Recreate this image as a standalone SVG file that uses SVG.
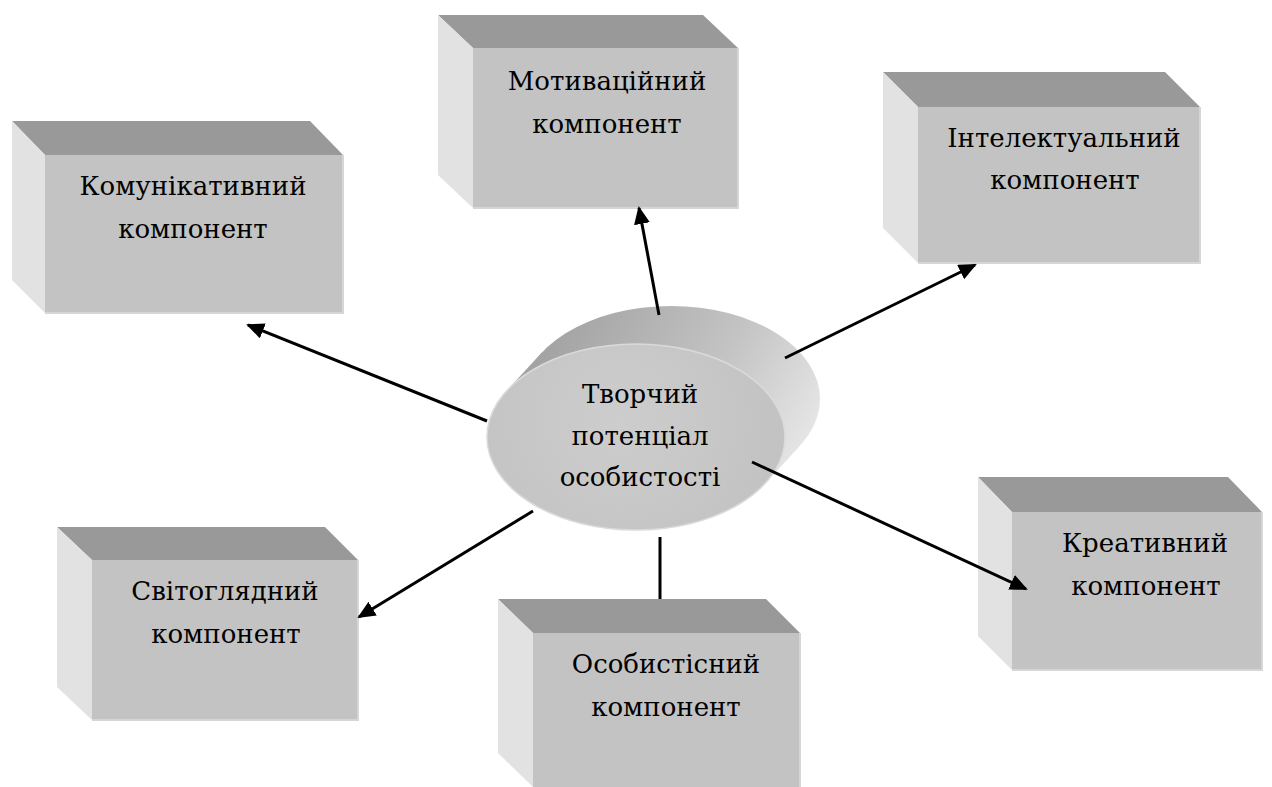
<svg xmlns="http://www.w3.org/2000/svg" width="1272" height="787" viewBox="0 0 1272 787">
<style>
.top{fill:#999999}
.side{fill:#e2e2e2}
.front{fill:#c3c3c3}
.edge{stroke:#d6d6d6;stroke-width:2;fill:none}
text{fill:#000;text-anchor:middle;font-family:'DejaVu Serif',serif;font-size:26px}
.conn{stroke:#000;stroke-width:3;fill:none}
</style>
<defs>
<marker id="arr" markerUnits="userSpaceOnUse" markerWidth="22" markerHeight="18" refX="16" refY="8" orient="auto">
<path d="M0,0 L18,8 L0,16 z" fill="#000"/>
</marker>
<linearGradient id="cylSide" gradientUnits="userSpaceOnUse" x1="560" y1="320" x2="815" y2="470">
<stop offset="0" stop-color="#a3a3a3"/>
<stop offset="0.55" stop-color="#c4c4c4"/>
<stop offset="1" stop-color="#ececec"/>
</linearGradient>
<radialGradient id="cylTop" gradientUnits="userSpaceOnUse" cx="620" cy="420" r="170">
<stop offset="0" stop-color="#cdcdcd"/>
<stop offset="1" stop-color="#c2c2c2"/>
</radialGradient>
</defs>

<g id="node-komunikatyvnyi">
<polygon class="top" points="12,121 310,121 343,155 45,155"/>
<polygon class="side" points="12,121 45,155 45,313 12,280"/>
<rect class="front" x="45" y="155" width="298" height="158"/>
<polyline class="edge" points="343,155 343,313 45,313"/>
<text x="193" y="195">Комунікативний</text>
<text x="193" y="238">компонент</text>
</g>

<g id="node-motyvatsiinyi">
<polygon class="top" points="438,15 703,15 738,48 473,48"/>
<polygon class="side" points="438,15 473,48 473,208 438,175"/>
<rect class="front" x="473" y="48" width="265" height="160"/>
<polyline class="edge" points="738,48 738,208 473,208"/>
<text x="607" y="90">Мотиваційний</text>
<text x="607" y="133">компонент</text>
</g>

<g id="node-intelektualnyi">
<polygon class="top" points="883,72 1165,72 1200,107 918,107"/>
<polygon class="side" points="883,72 918,107 918,263 883,228"/>
<rect class="front" x="918" y="107" width="282" height="156"/>
<polyline class="edge" points="1200,107 1200,263 918,263"/>
<text x="1064" y="147">Інтелектуальний</text>
<text x="1065" y="189">компонент</text>
</g>

<g id="node-kreatyvnyi">
<polygon class="top" points="978,477 1228,477 1262,512 1012,512"/>
<polygon class="side" points="978,477 1012,512 1012,670 978,636"/>
<rect class="front" x="1012" y="512" width="250" height="158"/>
<polyline class="edge" points="1262,512 1262,670 1012,670"/>
<text x="1145" y="552">Креативний</text>
<text x="1146" y="595">компонент</text>
</g>

<g id="node-osobystisnyi">
<polygon class="top" points="498,599 766,599 800,633 533,633"/>
<polygon class="side" points="498,599 533,633 533,787 498,753"/>
<rect class="front" x="533" y="633" width="267" height="154"/>
<line class="edge" x1="800" y1="633" x2="800" y2="787"/>
<text x="666" y="673">Особистісний</text>
<text x="666" y="716">компонент</text>
</g>

<g id="node-svitohliadnyi">
<polygon class="top" points="57,527 325,527 358,560 92,560"/>
<polygon class="side" points="57,527 92,560 92,720 57,687"/>
<rect class="front" x="92" y="560" width="266" height="160"/>
<polyline class="edge" points="358,560 358,720 92,720"/>
<text x="225" y="600">Світоглядний</text>
<text x="226" y="643">компонент</text>
</g>

<g id="node-tvorchyi-potentsial">
<ellipse cx="671" cy="399" rx="149" ry="93" fill="url(#cylSide)"/>
<polygon points="506.8,390.6 541.8,352.6 800.2,445.4 765.2,483.4" fill="url(#cylSide)"/>
<ellipse cx="636" cy="437" rx="149" ry="93" fill="url(#cylTop)" stroke="#dadada" stroke-width="1.5"/>
<text x="640" y="403">Творчий</text>
<text x="640" y="445">потенціал</text>
<text x="640" y="486">особистості</text>
</g>

<g id="connectors">
<line class="conn" x1="487" y1="421" x2="248" y2="325" marker-end="url(#arr)"/>
<line class="conn" x1="659" y1="315" x2="639" y2="208" marker-end="url(#arr)"/>
<line class="conn" x1="785" y1="358" x2="975" y2="265" marker-end="url(#arr)"/>
<line class="conn" x1="752" y1="462" x2="1026" y2="589" marker-end="url(#arr)"/>
<line class="conn" x1="660" y1="537" x2="660" y2="599"/>
<line class="conn" x1="533" y1="511" x2="359" y2="617" marker-end="url(#arr)"/>
</g>
</svg>
